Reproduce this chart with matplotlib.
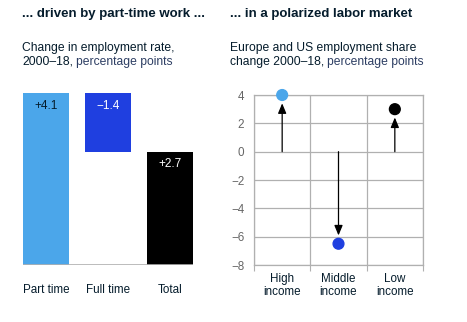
import numpy as np
import matplotlib.pyplot as plt

plt.rcParams['font.family'] = ['Liberation Sans', 'DejaVu Sans']

# left panel: waterfall of employment rate change
bar_cats = ['Part time', 'Full time', 'Total']
bar_vals = [4.1, -1.4, 2.7]
bar_labels = ['+4.1', '\u22121.4', '+2.7']
bar_colors = ['#4ba6ea', '#1f3fe0', '#000000']

# right panel: employment share change by income group
inc_cats = ['High\nincome', 'Middle\nincome', 'Low\nincome']
inc_vals = [4.0, -6.5, 3.0]
inc_colors = ['#4ba6ea', '#1f3fe0', '#000000']

W, H = 467, 322
fig = plt.figure(figsize=(W / 100, H / 100), dpi=100)
renderer = fig.canvas.get_renderer()

def px_axes(x0, y0, x1, y1):
    return fig.add_axes([x0 / W, 1 - y1 / H, (x1 - x0) / W, (y1 - y0) / H])

navy = '#051c2c'
sub_blue = '#2d3e63'

def two_part(x, y, first, second, size):
    t = fig.text(x / W, 1 - y / H, first, fontsize=size, color=navy,
                 va='center', ha='left')
    bb = t.get_window_extent(renderer)
    fig.text((bb.x1 + 3) / W, 1 - y / H, second, fontsize=size, color=sub_blue,
             va='center', ha='left')

# titles
fig.text(22 / W, 1 - 14 / H, '... driven by part-time work ...', fontsize=9.5,
         fontweight='bold', color=navy, va='center', ha='left')
fig.text(230 / W, 1 - 14 / H, '... in a polarized labor market', fontsize=9.5,
         fontweight='bold', color=navy, va='center', ha='left')
fig.text(22 / W, 1 - 48 / H, 'Change in employment rate,', fontsize=8.7,
         color=navy, va='center', ha='left')
two_part(22, 62, '2000\u201318,', 'percentage points', 8.7)
fig.text(230 / W, 1 - 48 / H, 'Europe and US employment share', fontsize=8.7,
         color=navy, va='center', ha='left')
two_part(230, 62, 'change 2000\u201318,', 'percentage points', 8.7)

# ---- left waterfall
ax1 = px_axes(23, 93, 193, 265)
xpos = np.arange(len(bar_vals))
bottoms = []
run = 0
for i, v in enumerate(bar_vals):
    if i == len(bar_vals) - 1:
        bottoms.append(0)
    elif v >= 0:
        bottoms.append(run)
        run += v
    else:
        run += v
        bottoms.append(run)
heights = [abs(v) for v in bar_vals]
ax1.bar(xpos, heights, bottom=bottoms, width=0.742, color=bar_colors)
ax1.set_xlim(-0.371, 2.371)
ax1.set_ylim(0, 4.1)
ax1.axhline(0, color='#b0b0b0', lw=1.2)
txt_colors = [navy, 'white', 'white']
for i in range(len(bar_vals)):
    top = bottoms[i] + heights[i]
    ax1.text(xpos[i], top - 0.3, bar_labels[i], ha='center', va='center',
             fontsize=8.5, color=txt_colors[i])
for s in ax1.spines.values():
    s.set_visible(False)
ax1.set_yticks([])
ax1.set_xticks(xpos)
ax1.set_xticklabels(bar_cats, fontsize=8.4, color=navy)
ax1.tick_params(axis='x', length=0, pad=14)

# ---- right dot plot with arrows
ax2 = px_axes(254, 95, 423, 265)
ax2.set_xlim(0, 3)
ax2.set_ylim(-8, 4)
ipos = np.arange(len(inc_vals)) + 0.5
ax2.set_yticks(np.arange(-8, 5, 2))
ax2.set_yticklabels([str(v).replace('-', '\u2212') for v in range(-8, 5, 2)])
ax2.set_xticks([0, 1, 2, 3])
ax2.set_xticklabels([])
ax2.set_xticks(ipos, minor=True)
ax2.set_xticklabels(inc_cats, minor=True, fontsize=8.4, color=navy,
                    linespacing=1.05)
ax2.tick_params(axis='x', which='major', length=4, color='#b0b0b0')
ax2.tick_params(axis='x', which='minor', length=0, pad=6)
ax2.tick_params(axis='y', length=0, labelsize=8.4, labelcolor='#666666', pad=7)
ax2.grid(True, color='#b0b0b0', lw=0.9)
ax2.set_axisbelow(True)
for s in ax2.spines.values():
    s.set_color('#b0b0b0')
    s.set_linewidth(0.9)
for x, v, c in zip(ipos, inc_vals, inc_colors):
    ax2.annotate('', xy=(x, v), xytext=(x, 0),
                 arrowprops=dict(arrowstyle='-|>,head_length=0.6,head_width=0.25',
                                 color='black', lw=0.9, shrinkA=0, shrinkB=6))
ax2.scatter(ipos, inc_vals, s=60, color=inc_colors, zorder=5, clip_on=False)

fig.savefig('out.png', dpi=100)
